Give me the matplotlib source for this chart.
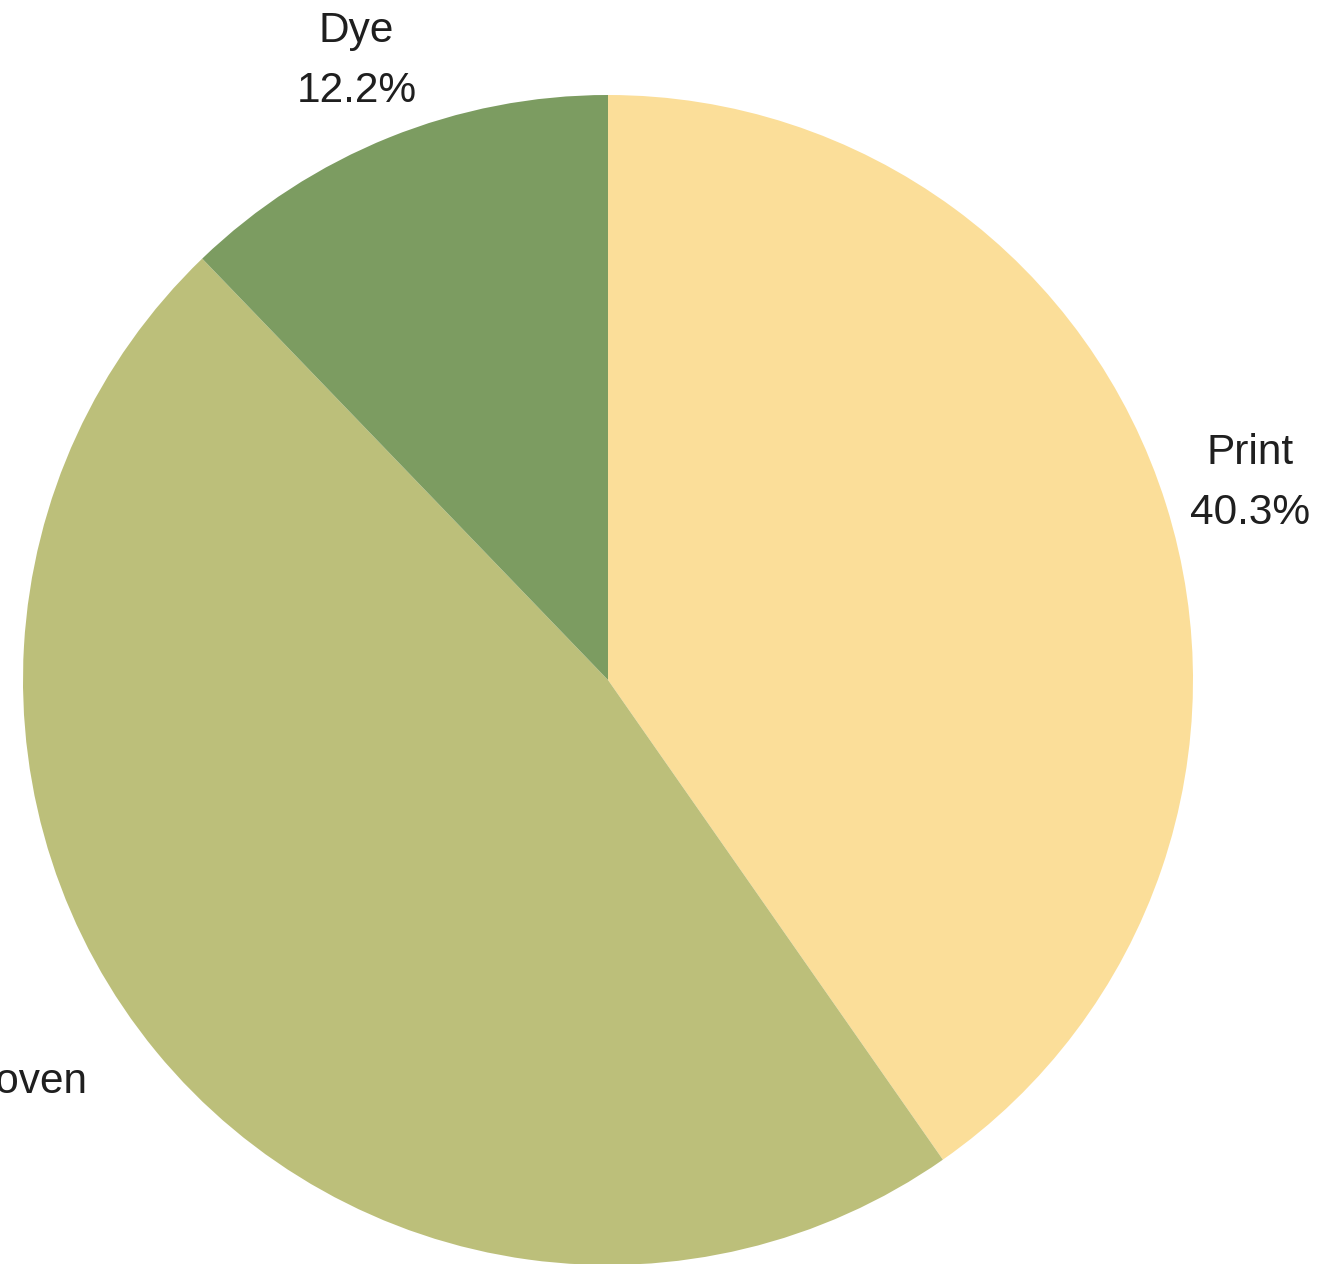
import matplotlib
matplotlib.use("Agg")

import numpy as np
import matplotlib.pyplot as plt

# data
categories = ["Print", "Woven", "Dye"]
shares = [40.3, 47.5, 12.2]
show_pct = [True, False, True]  # the Woven percentage lies outside the canvas
colors = ["#fbde99", "#bcbf7a", "#7c9c61"]

plt.rcParams["font.family"] = ["Liberation Sans", "DejaVu Sans"]

W, H = 1322, 1264
cx, cy, r = 608, 680, 585  # pie centre and radius in pixels

fig = plt.figure(figsize=(W / 100, H / 100), dpi=100)
ax = fig.add_axes([(cx - r) / W, (H - cy - r) / H, 2 * r / W, 2 * r / H])

wedges, _ = ax.pie(shares, colors=colors, startangle=90, counterclock=False,
                   radius=1, wedgeprops=dict(linewidth=0))
ax.set_xlim(-1, 1)
ax.set_ylim(-1, 1)
ax.set_aspect("auto")
ax.axis("off")

# labels: name on top, percentage below, centred on a point 1.15 r out
for w, name, val, show in zip(wedges, categories, shares, show_pct):
    theta = np.deg2rad((w.theta1 + w.theta2) / 2)
    x, y = 1.15 * np.cos(theta), 1.15 * np.sin(theta)
    if y > 0:
        ha = "center"
    else:
        ha = "right" if x < 0 else "left"
    kw = dict(xycoords="data", textcoords="offset points", ha=ha,
              va="baseline", fontsize=30.5, color="#1f1f1f", annotation_clip=False)
    ax.annotate(name, (x, y), xytext=(0, 10.4), **kw)
    if show:
        ax.annotate("%.1f%%" % val, (x, y), xytext=(0, -32.8), **kw)

plt.savefig("out.png", dpi=100)
